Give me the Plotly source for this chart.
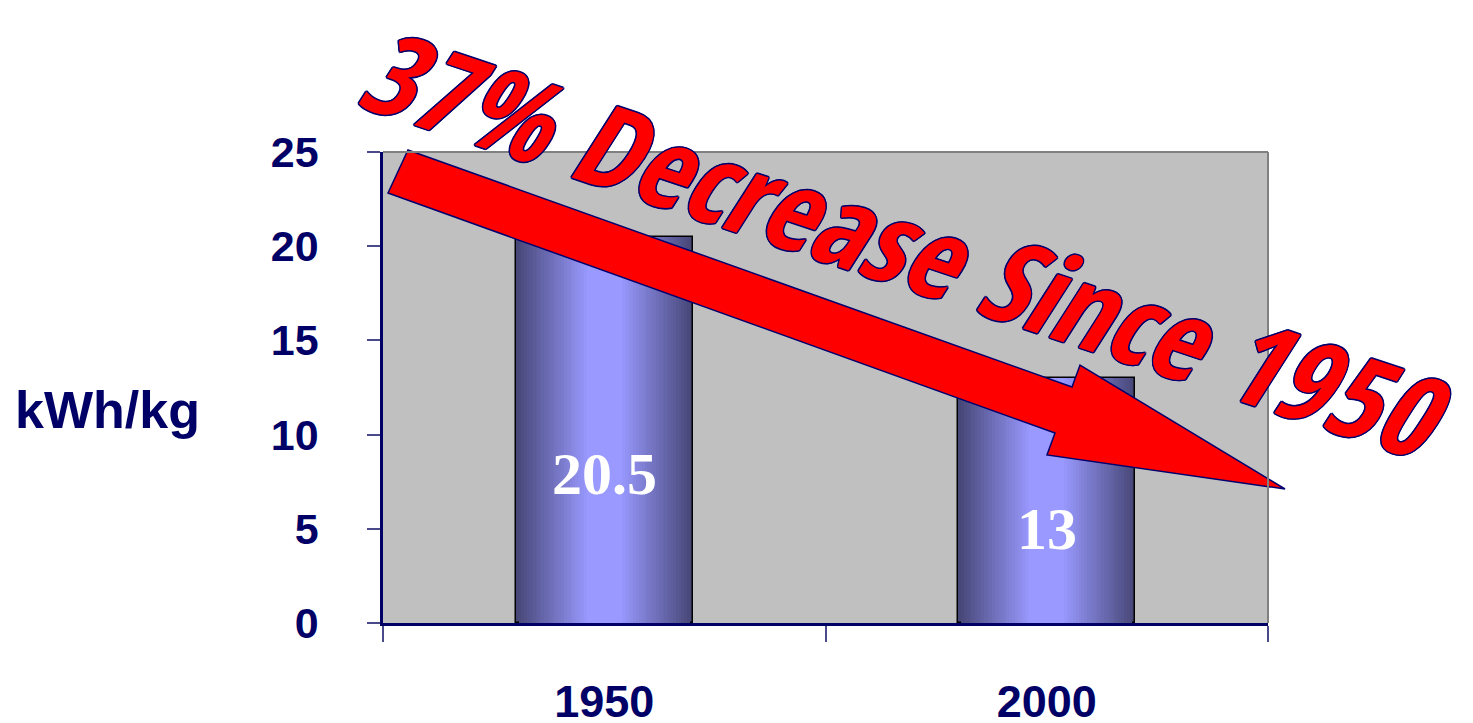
import plotly.graph_objects as go

# ---- data ----
years = ["1950", "2000"]
energy = [20.5, 13]
bar_labels = ["20.5", "13"]
y_ticks = [0, 5, 10, 15, 20, 25]
y_title = "kWh/kg"
headline = "37% Decrease Since 1950"

NAVY = "#000066"
W = 0.4
N = 26
dark = (0x47, 0x47, 0x78)
light = (0x99, 0x99, 0xff)
xpos = list(range(len(years)))

fig = go.Figure()
for k in range(N):
    t = k / (N - 1)
    col = "rgb(%d,%d,%d)" % tuple(round(d + (l - d) * t) for d, l in zip(dark, light))
    w = W * (1 - 0.8 * t)
    fig.add_trace(go.Bar(
        x=xpos, y=energy, width=w,
        marker=dict(color=col,
                    line=dict(color="#000000", width=1.5 if k == 0 else 0)),
        hoverinfo="skip" if k else "y", showlegend=False,
    ))

for xi, v, lab in zip(xpos, energy, bar_labels):
    fig.add_annotation(x=xi, y=v * 0.385, text=lab, showarrow=False,
                       font=dict(family="Liberation Serif, Times New Roman, serif",
                                 size=60, color="white", weight="bold"))

OFF = 8  # page body margin
L, R, T, B = 383, 1268, 152, 623
def px(xp, yp):
    return (xp - L) / (R - L), (B - yp) / (B - T)

arrow_px = [(408, 150), (1072, 387), (1080, 365), (1285, 489),
            (1047, 455), (1055, 433), (388, 193)]
pts = [px(a, b) for a, b in arrow_px]
path = "M " + " L ".join("%.5f,%.5f" % p for p in pts) + " Z"
fig.add_shape(type="path", path=path, xref="paper", yref="paper",
              fillcolor="#ff0000", line=dict(color="#00006e", width=1.5),
              layer="above")

fig.add_shape(type="line", xref="paper", yref="paper", x0=0, x1=1, y0=1, y1=1,
              line=dict(color="#808080", width=2))
fig.add_shape(type="line", xref="paper", yref="paper", x0=1, x1=1, y0=0, y1=1,
              line=dict(color="#808080", width=2))

cx, cy = px(906, 242)
outline = ", ".join("%spx %spx 0 #00006e" % (a, b) for a, b in
                    [(1.5, 0), (-1.5, 0), (0, 1.5), (0, -1.5),
                     (1, 1), (-1, -1), (1, -1), (-1, 1)])
fig.add_annotation(xref="paper", yref="paper", x=cx, y=cy, text=headline,
                   showarrow=False, textangle=18.5, xanchor="center", yanchor="middle",
                   font=dict(family="Open Sans Condensed, Roboto Condensed, DejaVu Sans Condensed, sans-serif",
                             size=115, color="#ff0000", weight="bold", style="italic",
                             shadow=outline))

tx, ty = px(107, 410)
fig.add_annotation(xref="paper", yref="paper", x=tx, y=ty, text=y_title,
                   showarrow=False, xanchor="center", yanchor="middle",
                   font=dict(family="Liberation Sans, Arial, sans-serif", size=52,
                             color=NAVY, weight="bold"))

fig.update_layout(
    width=1473 - OFF, height=723 - OFF,
    margin=dict(l=L - OFF, r=1473 - R, t=T - OFF, b=723 - B, autoexpand=False),
    paper_bgcolor="white", plot_bgcolor="#c0c0c0",
    barmode="overlay", bargap=0, showlegend=False,
    font=dict(family="Liberation Sans, Arial, sans-serif", color=NAVY),
)
fig.update_xaxes(range=[-0.5, len(years) - 0.5], tickvals=xpos, ticktext=years,
                 ticks="", showline=True, linecolor=NAVY, linewidth=2.5,
                 showgrid=False, zeroline=False, ticklabelstandoff=37, automargin=False,
                 tickangle=0,
                 minor=dict(tickvals=[x - 0.5 for x in xpos] + [xpos[-1] + 0.5],
                            ticks="outside", ticklen=16, tickcolor="#4a4a8a", tickwidth=1.5,
                            showgrid=False),
                 tickfont=dict(size=45, color=NAVY, weight="bold"))
fig.update_yaxes(range=[0, 25], tickvals=y_ticks, ticks="outside", ticklen=13,
                 tickcolor="#4a4a8a", tickwidth=1.5, showline=True, linecolor=NAVY,
                 linewidth=2.5, showgrid=False, zeroline=False, ticklabelstandoff=40,
                 automargin=False,
                 tickfont=dict(size=43, color=NAVY, weight="bold"))

fig.write_html("out.html")
